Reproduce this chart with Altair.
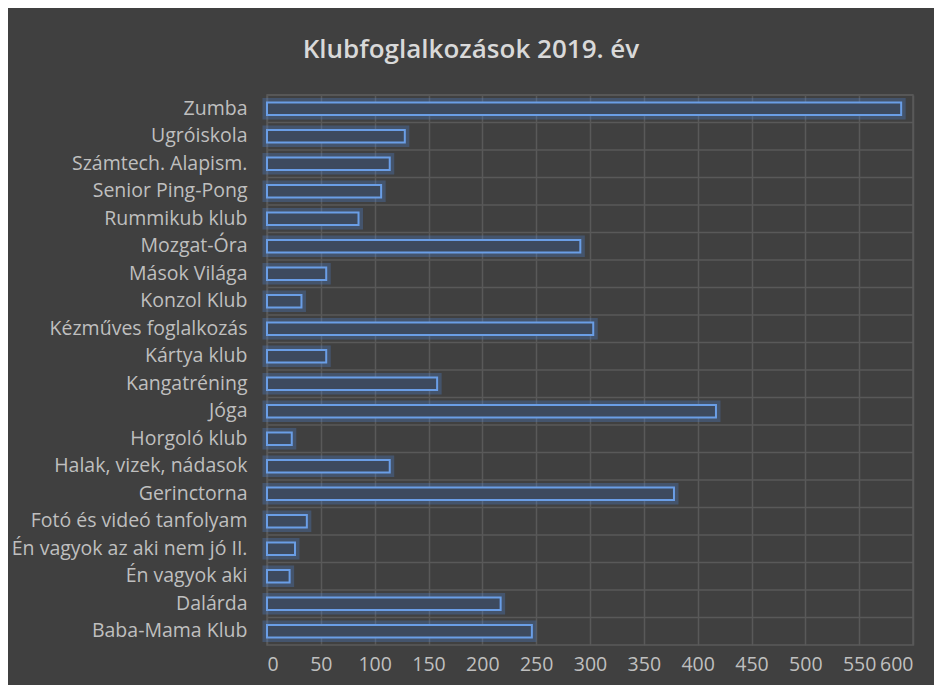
import altair as alt
import pandas as pd

categories = [
    "Zumba", "Ugróiskola", "Számtech. Alapism.", "Senior Ping-Pong", "Rummikub klub",
    "Mozgat-Óra", "Mások Világa", "Konzol Klub", "Kézműves foglalkozás", "Kártya klub",
    "Kangatréning", "Jóga", "Horgoló klub", "Halak, vizek, nádasok", "Gerinctorna",
    "Fotó és videó tanfolyam", "Én vagyok az aki nem jó II.", "Én vagyok aki", "Dalárda",
    "Baba-Mama Klub",
]
values = [589, 128, 114, 106, 85, 291, 55, 32, 303, 55, 158, 417, 23, 114, 378, 37, 26, 21, 217, 246]
x_ticks = [0, 50, 100, 150, 200, 250, 300, 350, 400, 450, 500, 550, 600]

df = pd.DataFrame({"kat": categories, "ertek": values})

BG = "#404040"
GRID = "#595959"
TXT = "#bfbfbf"
FONT = "Open Sans"

y_axis = alt.Axis(
    title=None, domain=False, ticks=False, grid=False,
    labelColor=TXT, labelFont=FONT, labelFontSize=19.5, labelPadding=20,
    labelLimit=300,
)
y_scale = alt.Scale(paddingInner=0, paddingOuter=0)

y_enc = alt.Y("kat:N", sort=categories, scale=y_scale, axis=y_axis)
x_enc = alt.X(
    "ertek:Q",
    scale=alt.Scale(domain=[0, 600], nice=False),
    axis=alt.Axis(
        title=None, values=x_ticks, domain=False, ticks=False, grid=True,
        gridColor=GRID, gridWidth=1.5, labelColor=TXT, labelFont=FONT,
        labelFontSize=19.5, labelPadding=10,
    ),
)

base = alt.Chart(df)

hgrid = base.mark_rule(color=GRID, strokeWidth=1.5).encode(
    y=alt.Y("kat:N", sort=categories, bandPosition=0, scale=y_scale, axis=y_axis)
)

glow = base.mark_bar(
    height={"band": 0.45}, fill=None, fillOpacity=0, stroke="#4f86d4",
    strokeWidth=9, strokeOpacity=0.3,
).encode(x=x_enc, y=y_enc)

bars = base.mark_bar(
    height={"band": 0.45}, fill="#3d4a5e", stroke="#6a9ee6", strokeWidth=2,
).encode(x=x_enc, y=y_enc)

chart = alt.layer(hgrid, glow, bars).properties(
    width=646,
    height=550,
    background=BG,
    padding={"left": 259, "top": 87, "right": 21, "bottom": 40},
    autosize=alt.AutoSizeParams(type="none"),
    title=alt.TitleParams(
        "Klubfoglalkozások 2019. év", color="#d9d9d9", font=FONT, fontSize=26,
        fontWeight=600, anchor="middle", dx=-119, offset=31,
    ),
).configure_view(stroke=GRID, strokeWidth=1.5)

chart.save("out.html", embed_options={"renderer": "svg", "actions": False})
